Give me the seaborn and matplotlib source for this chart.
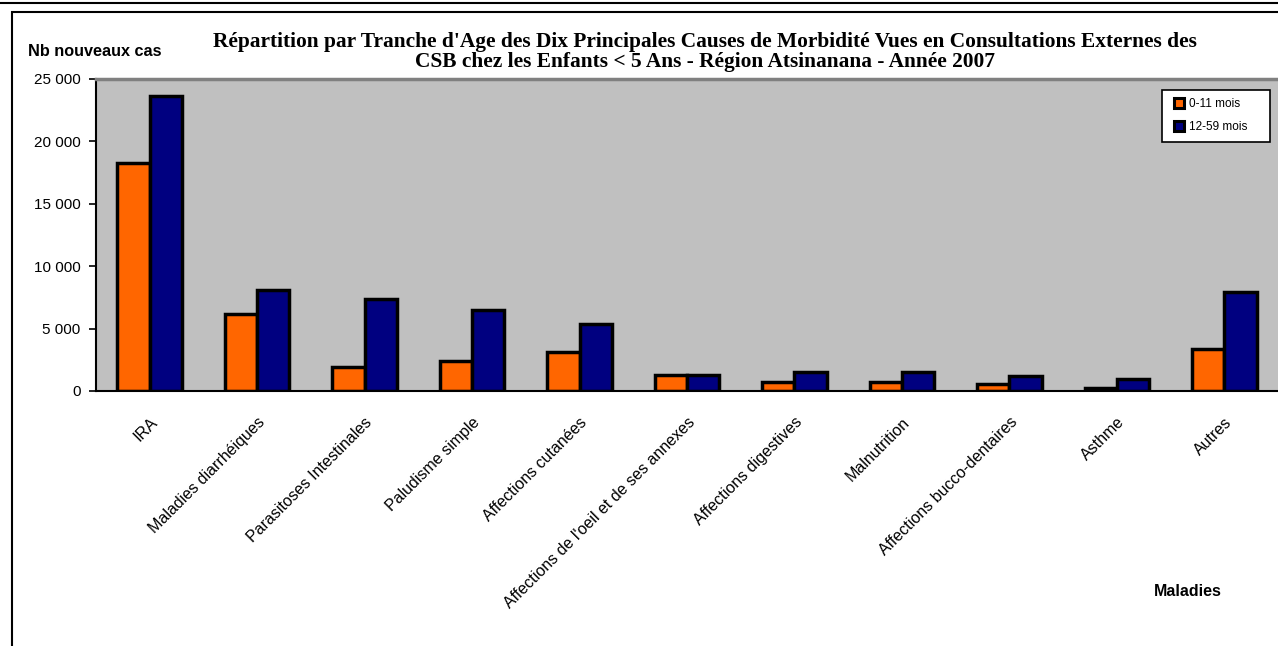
import pandas as pd
import numpy as np
import seaborn as sns
import matplotlib.pyplot as plt
from matplotlib.patches import Rectangle
from matplotlib.lines import Line2D

# Data
maladies = [
    "IRA", "Maladies diarrhéiques", "Parasitoses Intestinales", "Paludisme simple",
    "Affections cutanées", "Affections de l'oeil et de ses annexes",
    "Affections digestives", "Malnutrition", "Affections bucco-dentaires",
    "Asthme", "Autres",
]
cas_0_11 = [18300, 6150, 1900, 2400, 3100, 1280, 720, 740, 560, 280, 3370]
cas_12_59 = [23650, 8100, 7400, 6500, 5400, 1300, 1550, 1550, 1200, 950, 7950]
tranches = ["0-11 mois", "12-59 mois"]
couleurs = ["#FF6600", "#000080"]

df = pd.DataFrame({
    "Maladie": maladies * 2,
    "Tranche": [tranches[0]] * len(maladies) + [tranches[1]] * len(maladies),
    "Cas": cas_0_11 + cas_12_59,
})

sns.set_style("white")
plt.rcParams["font.family"] = ["Liberation Sans", "DejaVu Sans"]
plt.rcParams["text.color"] = "black"
plt.rcParams["xtick.color"] = "black"
plt.rcParams["ytick.color"] = "black"
plt.rcParams["xtick.labelcolor"] = "black"
plt.rcParams["ytick.labelcolor"] = "black"

fig = plt.figure(figsize=(12.78, 6.46), dpi=100)
ax = fig.add_axes([96 / 1278, 1 - 391 / 646, 1 - 96 / 1278, 312 / 646])
ax.set_facecolor("#C0C0C0")

sns.barplot(data=df, x="Maladie", y="Cas", hue="Tranche", palette=couleurs,
            width=0.6, edgecolor="black", linewidth=2.5, ax=ax, legend=False,
            saturation=1)

ax.set_xlim(-0.5, len(maladies) - 0.5)
ax.set_ylim(0, 25000)
ax.set_yticks(np.arange(0, 25001, 5000))
ax.set_yticklabels([f"{v:,}".replace(",", " ") for v in range(0, 25001, 5000)], fontsize=11)
ax.set_xticks(range(len(maladies)))
ax.set_xticklabels(maladies, rotation=45, ha="right", rotation_mode="anchor", fontsize=11.5)
ax.set_xticks(np.arange(-0.5, len(maladies), 1), minor=True)
ax.tick_params(axis="x", which="major", length=0, pad=17)
ax.tick_params(axis="x", which="minor", length=5, width=1.2, color="black", direction="out")
ax.tick_params(axis="y", which="major", length=5, width=1.2, color="black", direction="out",
               left=True, pad=6)
ax.set_xlabel("")
ax.set_ylabel("")

for side in ["left", "bottom"]:
    ax.spines[side].set_color("black")
    ax.spines[side].set_linewidth(1.5)
ax.spines["top"].set_color("#808080")
ax.spines["top"].set_linewidth(2.5)
ax.spines["right"].set_visible(False)

# legend box at fixed width, entries left-aligned
handles = [Line2D([], [], linestyle="none", marker="s", markersize=6.5,
                  markerfacecolor=c, markeredgecolor="black", markeredgewidth=2.2)
           for c in couleurs]
leg = ax.legend(handles, tranches, loc="upper left",
                bbox_to_anchor=((1162 - 96) / 1182, 0.0, 108 / 1182, (391 - 90) / 312),
                mode="expand", fontsize=8.5, frameon=True, fancybox=False,
                edgecolor="black", framealpha=1, handlelength=1.55, handletextpad=0.0,
                borderpad=0.7, labelspacing=0.95, borderaxespad=0)
leg.get_frame().set_linewidth(1.2)
leg.get_frame().set_facecolor("white")

fig.text(705 / 1278, 1 - 42 / 646,
         "Répartition par Tranche d'Age des Dix Principales Causes de Morbidité Vues en Consultations Externes des",
         ha="center", va="center", fontsize=15.4, fontweight="bold", family="Liberation Serif")
fig.text(705 / 1278, 1 - 62 / 646,
         "CSB chez les Enfants < 5 Ans - Région Atsinanana - Année 2007",
         ha="center", va="center", fontsize=15.4, fontweight="bold", family="Liberation Serif")
fig.text(28 / 1278, 1 - 51 / 646, "Nb nouveaux cas", ha="left", va="center",
         fontsize=11.7, fontweight="bold")
fig.text(1188 / 1278, 1 - 592 / 646, "Maladies", ha="center", va="center",
         fontsize=11.5, fontweight="bold")

# outer chart frame
fig.add_artist(Rectangle((12 / 1278, -0.01), 1.0, 1 - 12 / 646 + 0.01,
                         transform=fig.transFigure, fill=False,
                         edgecolor="black", linewidth=1.5))
fig.add_artist(Line2D([0, 1], [1 - 3 / 646, 1 - 3 / 646], transform=fig.transFigure,
                      color="black", linewidth=1.5))

plt.savefig("out.png", dpi=100)
